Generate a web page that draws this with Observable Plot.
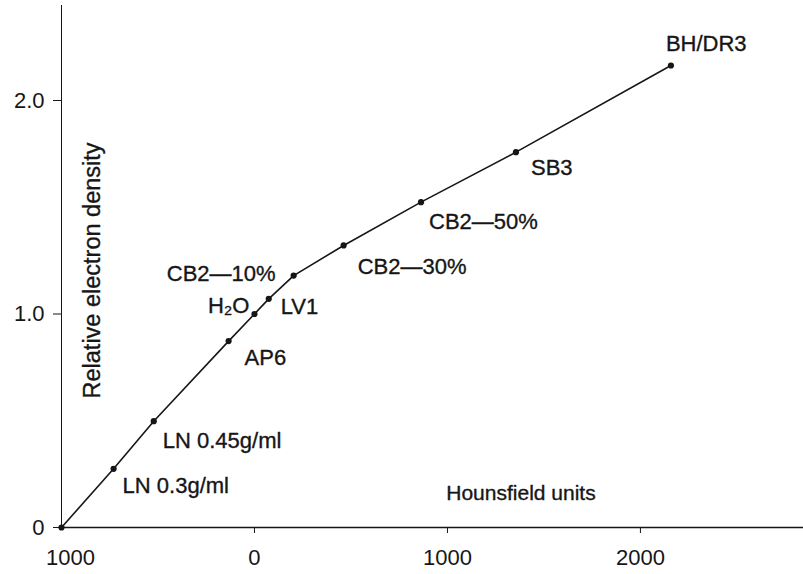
<!DOCTYPE html>
<html>
<head>
<meta charset="utf-8">
<script src="https://cdn.jsdelivr.net/npm/d3@7"></script>
<script src="https://cdn.jsdelivr.net/npm/@observablehq/plot@0.6"></script>
<style>
  html, body { margin: 0; padding: 0; background: #fff; }
  svg { display: block; }
</style>
</head>
<body>
<div id="chart"></div>
<script>
// Data
const materials = ["", "LN 0.3g/ml", "LN 0.45g/ml", "AP6", "H₂O", "LV1", "CB2—10%", "CB2—30%", "CB2—50%", "SB3", "BH/DR3"];
const hounsfield = [-1000, -730, -522, -134, 0, 74, 203, 462, 863, 1355, 2158];
const electronDensity = [0, 0.275, 0.498, 0.873, 1.0, 1.071, 1.18, 1.321, 1.524, 1.758, 2.164];
const xTicks = [-1000, 0, 1000, 2000];
const yTicks = [0, 1, 2];
const xTitle = "Hounsfield units";
const yTitle = "Relative electron density";

// Label placement (layout, not data)
const labelLayout = [
  null,
  {dx: 9, dy: 17, anchor: "start"},
  {dx: 9, dy: 20, anchor: "start"},
  {dx: 16, dy: 17, anchor: "start"},
  {dx: -5, dy: -8, anchor: "end"},
  {dx: 12, dy: 8, anchor: "start"},
  {dx: -18, dy: -2, anchor: "end"},
  {dx: 14, dy: 21, anchor: "start"},
  {dx: 8, dy: 20, anchor: "start"},
  {dx: 15, dy: 16, anchor: "start"},
  {dx: -5, dy: -22, anchor: "start"}
];

const data = materials.map((name, i) => ({name, hu: hounsfield[i], red: electronDensity[i]}));

const FONT = "'Liberation Sans', Arial, sans-serif";
const ink = "#161616";
const textStroke = {stroke: ink, strokeWidth: 0.35};

const labelMarks = labelLayout.map((l, i) => l ? Plot.text(data, {
  filter: (d, j) => j === i,
  x: "hu", y: "red", text: "name",
  dx: l.dx, dy: l.dy, textAnchor: l.anchor,
  fontSize: 22, fill: ink, ...textStroke
}) : null).filter(Boolean);

const chart = Plot.plot({
  width: 803,
  height: 574,
  marginLeft: 61,
  marginRight: 0,
  marginTop: 5,
  marginBottom: 47,
  style: {fontFamily: FONT, background: "#fff", color: ink},
  x: {domain: [-1000, 2845]},
  y: {domain: [0, 2.445]},
  marks: [
    Plot.ruleY([0], {x1: -1000, x2: 2845, stroke: ink, strokeWidth: 1.3}),
    Plot.ruleX([-1000], {y1: 0, y2: 2.445, stroke: ink, strokeWidth: 1}),
    Plot.axisX({ticks: xTicks.filter(t => t !== -1000), tickSize: 6, tickPadding: 16, tickFormat: d => String(Math.abs(d)), fontSize: 22, label: null, stroke: ink}),
    Plot.axisX({ticks: xTicks.filter(t => t === -1000), tickSize: 0, tickPadding: 22, dx: 9, tickFormat: d => String(Math.abs(d)), fontSize: 22, label: null}),
    Plot.axisY({ticks: yTicks, tickSize: 8, tickPadding: 9, tickFormat: d => d === 0 ? "0" : d.toFixed(1), fontSize: 22, label: null, stroke: ink}),
    Plot.line(data, {x: "hu", y: "red", stroke: ink, strokeWidth: 1.6}),
    Plot.dot(data, {x: "hu", y: "red", r: 3.1, fill: ink, stroke: "none"}),
    ...labelMarks,
    Plot.text([xTitle], {x: 1381, y: 0.159, text: d => d, fontSize: 21, fill: ink, ...textStroke}),
    Plot.text([yTitle], {x: -839, y: 1.204, text: d => d, rotate: -90, fontSize: 23.5, fill: ink, ...textStroke})
  ]
});

document.getElementById("chart").appendChild(chart);
</script>
</body>
</html>
